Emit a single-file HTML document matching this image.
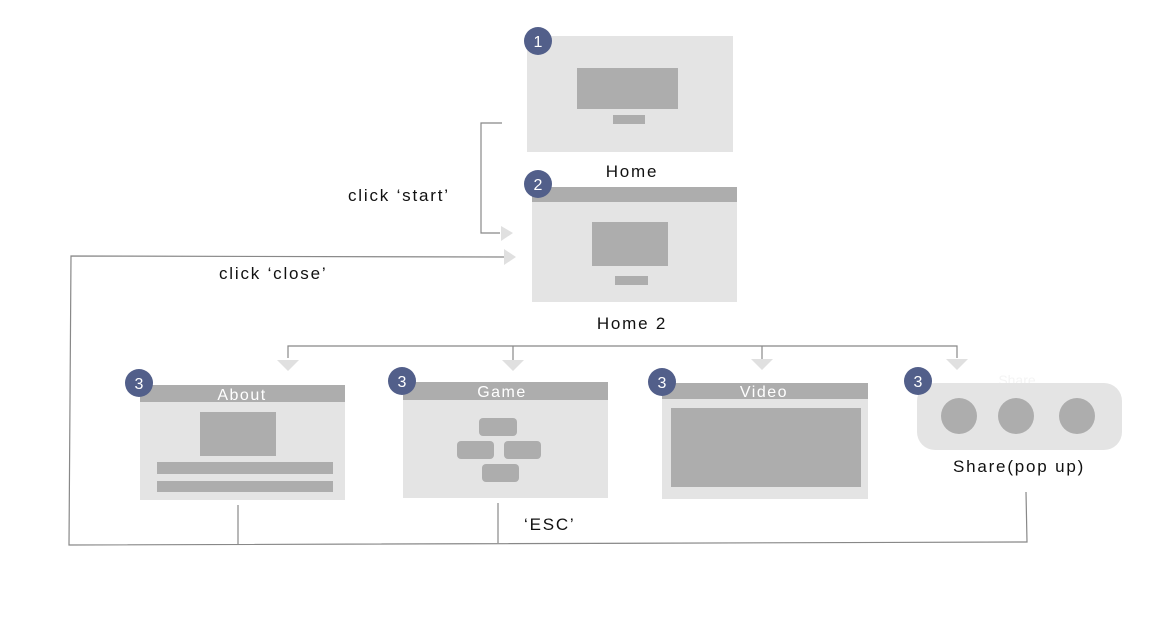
<!DOCTYPE html>
<html><head><meta charset="utf-8"><style>
html,body{margin:0;padding:0;background:#fff;}
svg{display:block;}
text{font-family:"Liberation Sans",sans-serif;}
</style></head><body>
<svg width="1154" height="624" viewBox="0 0 1154 624">
<g fill="none" stroke="#888" stroke-width="1.2">
 <polyline points="502,123 481,123 481,233 500,233"/>
 <polyline points="504,257 71,256 69,545 1027,542 1026,492"/>
 <line x1="238" y1="505" x2="238" y2="545"/>
 <line x1="498" y1="503" x2="498" y2="543"/>
 <polyline points="288,358 288,346 957,346 957,358"/>
 <line x1="513" y1="346" x2="513" y2="360"/>
 <line x1="762" y1="346" x2="762" y2="360"/>
</g>
<g fill="#e0e0e0">
 <polygon points="501,226 513,233 501,241"/>
 <polygon points="504,249 516,257 504,265"/>
 <polygon points="277,360 299,360 288,371"/>
 <polygon points="502,360 524,360 513,371"/>
 <polygon points="751,359 773,359 762,370"/>
 <polygon points="946,359 968,359 957,370"/>
</g>
<g>
 <rect x="527" y="36" width="206" height="116" fill="#e4e4e4"/>
 <rect x="577" y="68" width="101" height="41" fill="#adadad"/>
 <rect x="613" y="115" width="32" height="9" fill="#adadad"/>
</g>
<g>
 <rect x="532" y="187" width="205" height="115" fill="#e4e4e4"/>
 <rect x="532" y="187" width="205" height="15" fill="#adadad"/>
 <rect x="592" y="222" width="76" height="44" fill="#adadad"/>
 <rect x="615" y="276" width="33" height="9" fill="#adadad"/>
</g>
<g>
 <rect x="140" y="385" width="205" height="115" fill="#e4e4e4"/>
 <rect x="140" y="385" width="205" height="17" fill="#adadad"/>
 <rect x="200" y="412" width="76" height="44" fill="#adadad"/>
 <rect x="157" y="462" width="176" height="12" fill="#adadad"/>
 <rect x="157" y="481" width="176" height="11" fill="#adadad"/>
 <text x="242" y="400" font-size="16" fill="#fff" text-anchor="middle" letter-spacing="1.5">About</text>
</g>
<g>
 <rect x="403" y="382" width="205" height="116" fill="#e4e4e4"/>
 <rect x="403" y="382" width="205" height="18" fill="#adadad"/>
 <rect x="479" y="418" width="38" height="18" rx="4" fill="#adadad"/>
 <rect x="457" y="441" width="37" height="18" rx="4" fill="#adadad"/>
 <rect x="504" y="441" width="37" height="18" rx="4" fill="#adadad"/>
 <rect x="482" y="464" width="37" height="18" rx="4" fill="#adadad"/>
 <text x="502" y="397" font-size="16" fill="#fff" text-anchor="middle" letter-spacing="1.5">Game</text>
</g>
<g>
 <rect x="662" y="383" width="206" height="116" fill="#e4e4e4"/>
 <rect x="662" y="383" width="206" height="16" fill="#adadad"/>
 <rect x="671" y="408" width="190" height="79" fill="#adadad"/>
 <text x="764" y="397" font-size="16" fill="#fff" text-anchor="middle" letter-spacing="1.5">Video</text>
</g>
<g>
 <text x="1017" y="385" font-size="14" fill="#f4f4f4" text-anchor="middle">Share</text>
 <rect x="917" y="383" width="205" height="67" rx="18" fill="#e4e4e4"/>
 <circle cx="959" cy="416" r="18" fill="#adadad"/>
 <circle cx="1016" cy="416" r="18" fill="#adadad"/>
 <circle cx="1077" cy="416" r="18" fill="#adadad"/>
</g>
<g fill="#111" font-size="17" letter-spacing="1.8">
 <text x="632" y="177" text-anchor="middle">Home</text>
 <text x="632" y="329" text-anchor="middle">Home 2</text>
 <text x="1019" y="472" text-anchor="middle">Share(pop up)</text>
 <text x="348" y="201">click ‘start’</text>
 <text x="219" y="279">click ‘close’</text>
 <text x="524" y="530">‘ESC’</text>
</g>
<g fill="#525f8a">
 <circle cx="538" cy="41" r="14"/><circle cx="538" cy="184" r="14"/>
 <circle cx="139" cy="383" r="14"/><circle cx="402" cy="381" r="14"/>
 <circle cx="662" cy="382" r="14"/><circle cx="918" cy="381" r="14"/>
</g>
<g fill="#fff" font-size="16" text-anchor="middle">
 <text x="538" y="47">1</text><text x="538" y="190">2</text>
 <text x="139" y="389">3</text><text x="402" y="387">3</text>
 <text x="662" y="388">3</text><text x="918" y="387">3</text>
</g>
</svg>
</body></html>
